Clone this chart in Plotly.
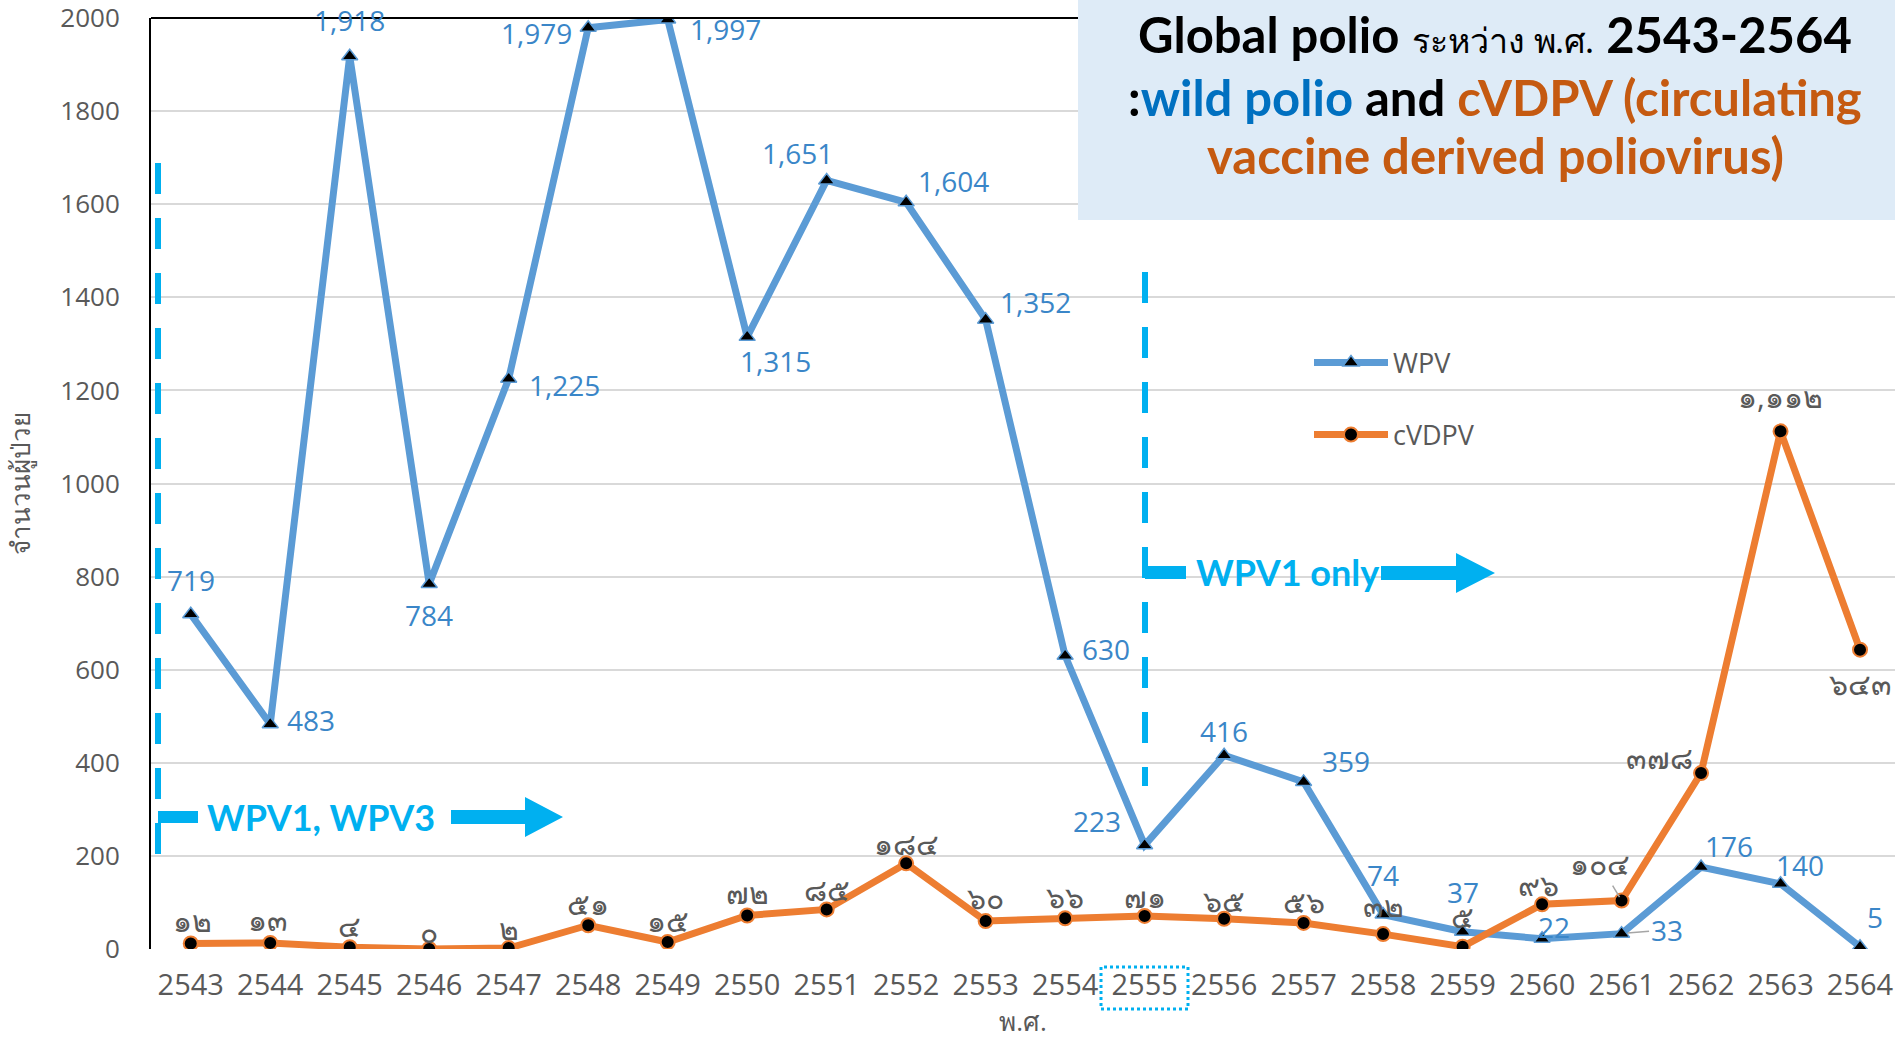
import plotly.graph_objects as go

# ---------------- data ----------------
years = ["2543", "2544", "2545", "2546", "2547", "2548", "2549", "2550", "2551", "2552", "2553",
         "2554", "2555", "2556", "2557", "2558", "2559", "2560", "2561", "2562", "2563", "2564"]
wpv = [719, 483, 1918, 784, 1225, 1979, 1997, 1315, 1651, 1604, 1352,
       630, 223, 416, 359, 74, 37, 22, 33, 176, 140, 5]
cvdpv = [12, 13, 4, 0, 2, 51, 15, 72, 85, 184, 60,
         66, 71, 65, 56, 32, 5, 96, 104, 378, 1112, 643]
y_ticks = [0, 200, 400, 600, 800, 1000, 1200, 1400, 1600, 1800, 2000]

# ---------------- styles ----------------
W, H = 1895, 1039
L, R, T, B = 151, 1895, 18, 949
BLUE_LINE = "#5B9BD5"
ORANGE_LINE = "#ED7D31"
BLUE_LABEL = "#3A86C8"
CYAN = "#00B0F0"
GRAY = "#595959"
FONT = "Open Sans, Noto Sans, sans-serif"
TITLE_FONT = "Lato, Open Sans, sans-serif"

# label offsets in px (dx, dy screen; dy positive = down)
wpv_off = [(0, -34), (41, -4), (0, -36), (0, 31), (56, 6), (-52, 5), (58, 10), (28, 24),
           (-29, -27), (47, -21), (50, -18), (41, -7), (-48, -24), (0, -24), (42, -21),
           (0, -40), (0, -40), (12, -12), (45, -4), (28, -21), (19, -19), (15, -30)]
cv_off = [(2, -23), (-2, -23), (0, -22), (0, -18), (0, -20), (0, -22), (0, -22), (0, -23),
          (0, -20), (0, -20), (0, -24), (0, -22), (0, -19), (0, -18), (0, -21), (0, -29),
          (0, -30), (-4, -20), (-22, -37), (-42, -16), (0, -35), (0, 34)]
wpv_leader = {18}
cv_leader = {18}

THAI_DIGITS = str.maketrans("0123456789", "๐๑๒๓๔๕๖๗๘๙")


def thai(n):
    return f"{n:,}".translate(THAI_DIGITS)


def px(x):
    return (x - L) / (R - L)


def py(y):
    return (B - y) / (B - T)


def ppath(points):
    return "M " + " L ".join(f"{px(x):.5f},{py(y):.5f}" for x, y in points) + " Z"


fig = go.Figure()
fig.add_trace(go.Scatter(
    x=years, y=wpv, name="WPV", mode="lines+markers",
    line=dict(color=BLUE_LINE, width=7),
    marker=dict(symbol="triangle-up", size=14, color="black", line=dict(color=BLUE_LINE, width=1.5)),
    legend="legend", hoverinfo="x+y",
))
fig.add_trace(go.Scatter(
    x=years, y=cvdpv, name="cVDPV", mode="lines+markers",
    line=dict(color=ORANGE_LINE, width=7),
    marker=dict(symbol="circle", size=14, color="black", line=dict(color=ORANGE_LINE, width=2)),
    legend="legend2", hoverinfo="x+y",
))

WPV_FONT = dict(family=FONT, size=28, color=BLUE_LABEL)
CV_FONT = dict(family=FONT, size=30, color=GRAY)

annotations = []
for i, v in enumerate(wpv):
    dx, dy = wpv_off[i]
    if i in wpv_leader:
        annotations.append(dict(x=i, y=v, xref="x", yref="y", text=f"{v:,}", showarrow=True,
                                arrowhead=0, arrowwidth=1.5, arrowcolor="#A6A6A6", ax=dx, ay=dy,
                                standoff=6, xanchor="center", yanchor="middle", font=WPV_FONT))
    else:
        annotations.append(dict(x=i, y=v, xref="x", yref="y", text=f"{v:,}", showarrow=False,
                                xshift=dx, yshift=-dy, xanchor="center", yanchor="middle",
                                font=WPV_FONT))
for i, v in enumerate(cvdpv):
    dx, dy = cv_off[i]
    if i in cv_leader:
        annotations.append(dict(x=i, y=v, xref="x", yref="y", text=thai(v), showarrow=True,
                                arrowhead=0, arrowwidth=1.5, arrowcolor="#A6A6A6", ax=dx, ay=dy,
                                standoff=4, xanchor="center", yanchor="middle", font=CV_FONT))
    else:
        annotations.append(dict(x=i, y=v, xref="x", yref="y", text=thai(v), showarrow=False,
                                xshift=dx, yshift=-dy, xanchor="center", yanchor="middle",
                                font=CV_FONT))

# annotation texts
annotations.append(dict(xref="paper", yref="paper", x=px(321), y=py(817), text="<b>WPV1, WPV3</b>",
                        showarrow=False, xanchor="center", yanchor="middle",
                        font=dict(family=TITLE_FONT, size=36, color=CYAN)))
annotations.append(dict(xref="paper", yref="paper", x=px(1287), y=py(572), text="<b>WPV1 only</b>",
                        showarrow=False, xanchor="center", yanchor="middle",
                        font=dict(family=TITLE_FONT, size=36, color=CYAN)))
# title box lines
annotations.append(dict(xref="paper", yref="paper", x=px(1495), y=py(34),
                        text="<b>Global polio</b> <span style='font-size:34px'>ระหว่าง พ.ศ.</span> <b>2543-2564</b>",
                        showarrow=False, xanchor="center", yanchor="middle",
                        font=dict(family=TITLE_FONT, size=49, color="black")))
annotations.append(dict(xref="paper", yref="paper", x=px(1495), y=py(97),
                        text="<b>:<span style='color:#0070C0'>wild polio</span> and "
                             "<span style='color:#C55A11'>cVDPV (circulating</span></b>",
                        showarrow=False, xanchor="center", yanchor="middle",
                        font=dict(family=TITLE_FONT, size=49, color="black")))
annotations.append(dict(xref="paper", yref="paper", x=px(1495), y=py(155),
                        text="<b>vaccine derived poliovirus)</b>",
                        showarrow=False, xanchor="center", yanchor="middle",
                        font=dict(family=TITLE_FONT, size=49, color="#C55A11")))

shapes = [
    dict(type="line", xref="paper", yref="paper", x0=0, x1=1, y0=1, y1=1,
         line=dict(color="black", width=2), layer="above"),
    dict(type="rect", xref="paper", yref="paper", x0=px(1078), x1=1.0, y0=py(220), y1=py(-2),
         fillcolor="#DEEBF7", line=dict(width=0), layer="above"),
    dict(type="line", xref="paper", yref="paper", x0=px(158), x1=px(158), y0=py(163), y1=py(876),
         line=dict(color=CYAN, width=6, dash="31px,24px")),
    dict(type="rect", xref="paper", yref="paper", x0=px(158), x1=px(198), y0=py(823), y1=py(811),
         fillcolor=CYAN, line=dict(width=0)),
    dict(type="path", xref="paper", yref="paper",
         path=ppath([(451, 810), (525, 810), (525, 797), (563, 817), (525, 837), (525, 824), (451, 824)]),
         fillcolor=CYAN, line=dict(width=0)),
    dict(type="line", xref="paper", yref="paper", x0=px(1145), x1=px(1145), y0=py(272), y1=py(786),
         line=dict(color=CYAN, width=6, dash="31px,24px")),
    dict(type="rect", xref="paper", yref="paper", x0=px(1145), x1=px(1186), y0=py(579), y1=py(566),
         fillcolor=CYAN, line=dict(width=0)),
    dict(type="path", xref="paper", yref="paper",
         path=ppath([(1381, 566), (1456, 566), (1456, 553), (1495, 573), (1456, 593), (1456, 580), (1381, 580)]),
         fillcolor=CYAN, line=dict(width=0)),
    dict(type="rect", xref="paper", yref="paper", x0=px(1101), x1=px(1188), y0=py(1009), y1=py(967),
         line=dict(color=CYAN, width=3, dash="dot")),
]

fig.update_layout(
    width=W, height=H,
    margin=dict(l=L, r=W - R, t=T, b=H - B, autoexpand=False),
    paper_bgcolor="white", plot_bgcolor="white",
    font=dict(family=FONT, color=GRAY),
    showlegend=True,
    legend=dict(x=px(1309), y=py(363), xanchor="left", yanchor="middle", itemwidth=74,
                bgcolor="rgba(0,0,0,0)", font=dict(size=27, color=GRAY), borderwidth=0),
    legend2=dict(x=px(1309), y=py(435), xanchor="left", yanchor="middle", itemwidth=74,
                 bgcolor="rgba(0,0,0,0)", font=dict(size=27, color=GRAY), borderwidth=0),
    xaxis=dict(type="category", range=[-0.5, 21.44], showgrid=False, zeroline=False,
               showline=False, ticks="outside", ticklen=10, tickcolor="rgba(0,0,0,0)",
               tickfont=dict(size=29, color=GRAY),
               title=dict(text="พ.ศ.", font=dict(size=26, color=GRAY), standoff=22)),
    yaxis=dict(range=[0, 2000], tickvals=y_ticks, showgrid=True, gridcolor="#D9D9D9", gridwidth=2,
               zeroline=False, showline=True, linecolor="black", linewidth=2,
               ticks="outside", ticklen=24, tickcolor="rgba(0,0,0,0)",
               ticklabeloverflow="allow",
               tickfont=dict(size=26, color=GRAY),
               title=dict(text="จำนวนผู้ป่วย", font=dict(size=26, color=GRAY), standoff=22)),
    annotations=annotations,
    shapes=shapes,
)

fig.write_html("out.html", config={"displayModeBar": False},
               post_script="document.body.style.margin='0';")
